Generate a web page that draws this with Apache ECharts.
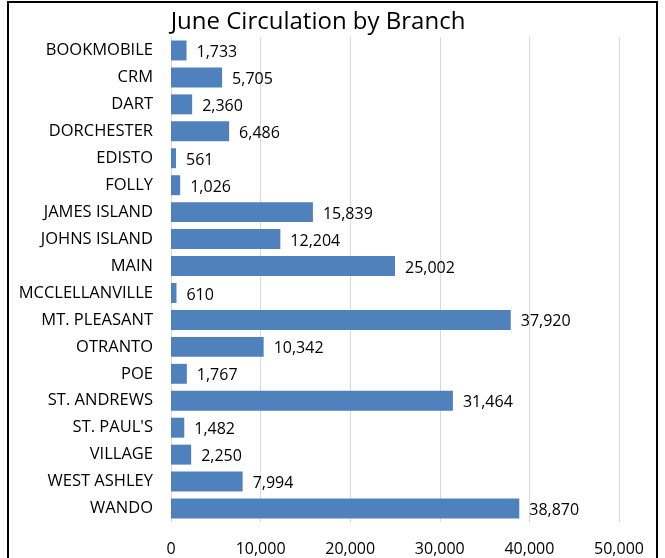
<!DOCTYPE html>
<html>
<head>
<meta charset="utf-8">
<script src="https://cdn.jsdelivr.net/npm/echarts@6/dist/echarts.min.js"></script>
<style>
  html, body { margin: 0; padding: 0; background: #fff; }
  #chart { width: 665px; height: 558px; }
</style>
</head>
<body>
<div id="chart"></div>
<script>
var branches = ['BOOKMOBILE', 'CRM', 'DART', 'DORCHESTER', 'EDISTO', 'FOLLY', 'JAMES ISLAND', 'JOHNS ISLAND', 'MAIN', 'MCCLELLANVILLE', 'MT. PLEASANT', 'OTRANTO', 'POE', 'ST. ANDREWS', "ST. PAUL'S", 'VILLAGE', 'WEST ASHLEY', 'WANDO'];
var circulation = [1733, 5705, 2360, 6486, 561, 1026, 15839, 12204, 25002, 610, 37920, 10342, 1767, 31464, 1482, 2250, 7994, 38870];

var font = '"Open Sans", Lato, sans-serif';
var chart = echarts.init(document.getElementById('chart'));
chart.setOption({
  animation: false,
  title: {
    text: 'June Circulation by Branch',
    left: 313,
    textAlign: 'center',
    top: 5,
    textStyle: { fontFamily: font, fontSize: 24, fontWeight: 'normal', color: '#000' }
  },
  graphic: [{
    type: 'rect',
    shape: { x: 8, y: 2, width: 649, height: 600 },
    style: { fill: 'none', stroke: '#000', lineWidth: 2 },
    silent: true
  }],
  grid: { left: 171, right: 46, top: 37, bottom: 36, containLabel: false },
  xAxis: {
    type: 'value',
    min: 0,
    max: 50000,
    interval: 10000,
    axisLine: { show: false },
    axisTick: { show: false },
    splitLine: { lineStyle: { color: '#d9d9d9', width: 1 } },
    axisLabel: {
      fontFamily: font, fontSize: 16, color: '#000', margin: 19,
      formatter: function (v) { return v.toLocaleString('en-US'); }
    }
  },
  yAxis: {
    type: 'category',
    data: branches,
    inverse: true,
    axisLine: { show: false },
    axisTick: { show: false },
    axisLabel: { fontFamily: font, fontSize: 16.5, color: '#000', margin: 18, padding: [3, 0, 0, 0] }
  },
  series: [{
    type: 'bar',
    data: circulation,
    barCategoryGap: '26%',
    itemStyle: { color: '#4f81bd' },
    label: {
      show: true,
      position: 'right',
      distance: 10,
      fontFamily: font,
      fontSize: 16,
      color: '#000',
      offset: [0, 2],
      formatter: function (p) { return p.value.toLocaleString('en-US'); }
    }
  }]
});
</script>
</body>
</html>
